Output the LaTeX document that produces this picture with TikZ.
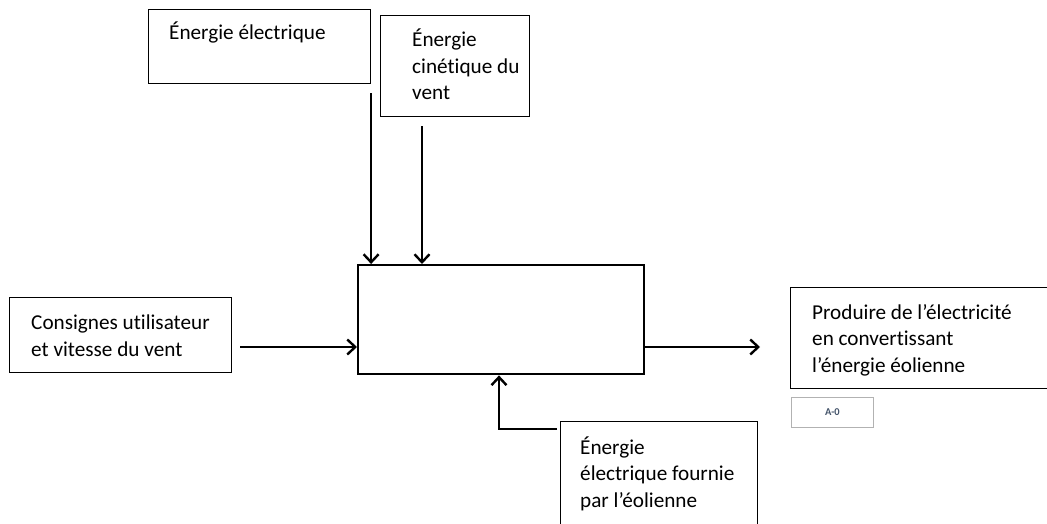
\documentclass[tikz,border=0pt]{standalone}
\usepackage{fontspec}
\setmainfont{Carlito}[Ligatures=NoCommon]
\usepackage{xcolor}
\usetikzlibrary{arrows.meta, positioning, calc}

\definecolor{codegray}{RGB}{68,84,106}

\begin{document}
\begin{tikzpicture}[
    x=1pt, y=-1pt,
    box/.style={draw, rectangle, line width=1.1pt, inner sep=0pt, anchor=north west},
    func/.style={draw, rectangle, line width=2.4pt, inner sep=0pt, anchor=north west, minimum width=286pt, minimum height=109pt},
    txt/.style={anchor=base west, inner sep=0pt, align=left, font=\fontsize{21.2}{26.5}\selectfont},
    flow/.style={-{Straight Barb[length=8pt, width=15pt]}, line width=2.4pt}
]
\useasboundingbox (0,0) rectangle (1047,524);

% activity box
\node[func] (main) at (357,264) {};

% controls
\node[box, minimum width=222pt, minimum height=74pt] (elec) at (148,9) {};
\node[txt] (electxt) at (169,40) {Énergie électrique};
\node[box, minimum width=149pt, minimum height=101pt] (cin) at (380,15) {};
\node[txt] (cintxt) at (412,100) {Énergie\\cinétique du\\vent};

% input
\node[box, minimum width=222pt, minimum height=75pt] (user) at (9,297) {};
\node[txt] (usertxt) at (31,356) {Consignes utilisateur\\et vitesse du vent};

% output
\node[box, minimum width=270pt, minimum height=101pt] (prod) at (790,287) {};
\node[txt] (prodtxt) at (812,372) {Produire de l’électricité\\en convertissant\\l’énergie éolienne};
\node[box, draw=gray!60, line width=0.8pt, minimum width=82pt, minimum height=30pt,
      font=\bfseries\fontsize{10.5}{11}\selectfont, text=codegray] (code) at (791,397) {A-0\\[7pt]};

% mechanism
\node[box, minimum width=197pt, minimum height=130pt] (eol) at (560,421) {};
\node[txt] (eoltxt) at (580,507) {Énergie\\électrique fournie\\par l’éolienne};

% connectors
\coordinate (elecout) at ($(elec.south east)+(0,9)$);
\coordinate (cinout) at ($(cin.south west)+(42,9)$);
\coordinate (userout) at (240,347);
\coordinate (prodin) at (760,347);
\coordinate (eolout) at (557,429);
\coordinate (fbup) at (499,429);

\draw[flow] (elecout) -- (elecout |- main.north);
\draw[flow] (cinout) -- (cinout |- main.north);
\draw[flow] (userout) -- (userout -| main.west);
\draw[flow] (prodin -| main.east) -- (prodin);
\draw[flow] (eolout) -- (fbup) -- (fbup |- main.south);

\end{tikzpicture}
\end{document}
